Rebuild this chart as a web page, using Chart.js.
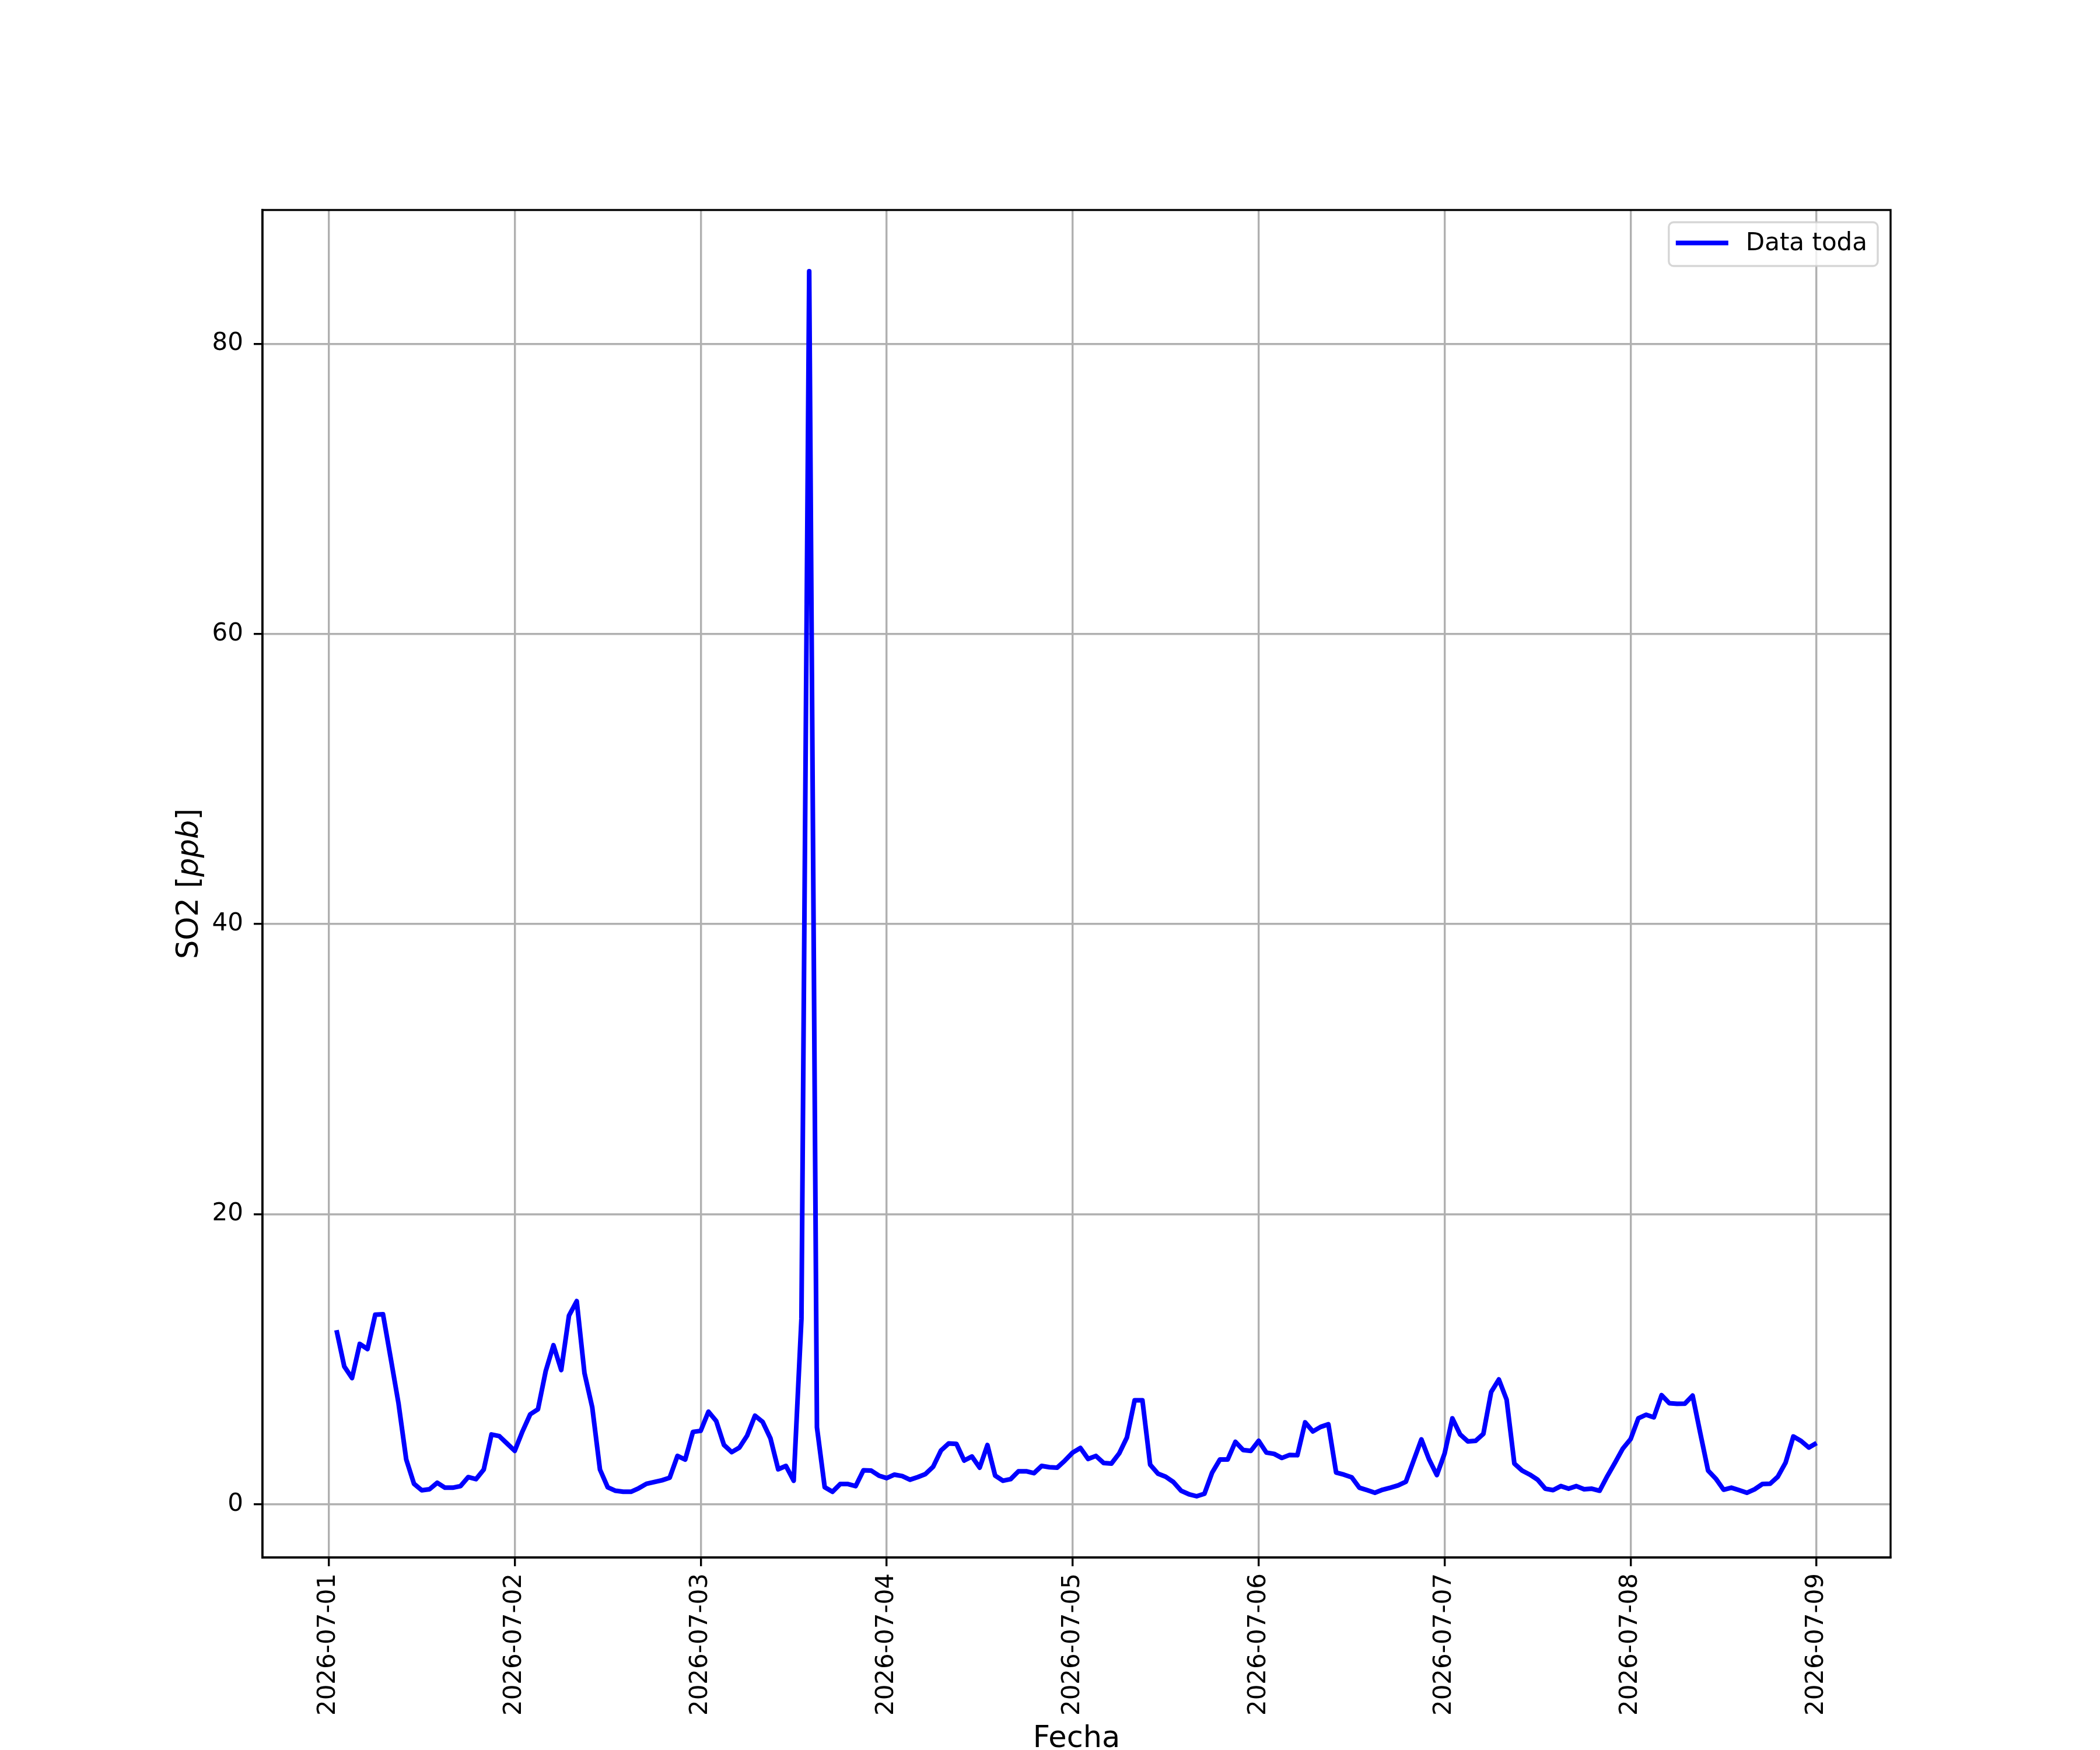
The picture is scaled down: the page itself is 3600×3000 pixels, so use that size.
<!DOCTYPE html>
<html>
<head>
<meta charset="utf-8">
<title>SO2</title>
<script src="https://cdn.jsdelivr.net/npm/chart.js@4/dist/chart.umd.min.js"></script>
<style>
  html, body { margin: 0; padding: 0; background: #fff; }
  canvas { display: block; }
</style>
</head>
<body>
<canvas id="grafico" width="3600" height="3000" style="width:3600px;height:3000px"></canvas>
<script>
// Valores horarios de SO2 (ppb), hora 1..24 de cada día (la hora 24 es las 00:00 del día siguiente)
const dia1 = [12.0, 9.5, 8.7, 11.05, 10.7, 13.07, 13.1, 10.05, 6.96, 3.08, 1.41, 0.96, 1.03, 1.48, 1.14, 1.14, 1.25, 1.87, 1.73, 2.39, 4.81, 4.70, 4.19, 3.68];
const dia2 = [5.02, 6.2, 6.55, 9.18, 10.96, 9.25, 13.0, 14.0, 9.04, 6.69, 2.39, 1.17, 0.93, 0.86, 0.86, 1.10, 1.41, 1.53, 1.65, 1.83, 3.33, 3.08, 4.99, 5.06];
const dia3 = [6.38, 5.74, 4.09, 3.59, 3.91, 4.74, 6.10, 5.67, 4.54, 2.41, 2.64, 1.62, 12.79, 85.0, 5.30, 1.17, 0.86, 1.39, 1.39, 1.25, 2.34, 2.32, 1.97, 1.80];
const dia4 = [2.04, 1.94, 1.69, 1.87, 2.08, 2.59, 3.70, 4.19, 4.16, 3.01, 3.29, 2.52, 4.08, 1.97, 1.62, 1.73, 2.27, 2.27, 2.14, 2.64, 2.55, 2.52, 3.01, 3.56];
const dia5 = [3.88, 3.12, 3.33, 2.84, 2.80, 3.50, 4.60, 7.17, 7.17, 2.73, 2.11, 1.90, 1.53, 0.93, 0.69, 0.55, 0.72, 2.18, 3.08, 3.08, 4.30, 3.74, 3.68, 4.37];
const dia6 = [3.56, 3.47, 3.19, 3.40, 3.38, 5.64, 5.02, 5.33, 5.51, 2.18, 2.04, 1.86, 1.14, 0.97, 0.79, 1.00, 1.14, 1.30, 1.55, 3.01, 4.47, 3.08, 2.01, 3.50];
const dia7 = [5.92, 4.81, 4.33, 4.37, 4.85, 7.73, 8.60, 7.21, 2.80, 2.32, 2.04, 1.69, 1.07, 0.97, 1.25, 1.07, 1.25, 1.03, 1.07, 0.93, 1.94, 2.87, 3.84, 4.49];
const dia8 = [5.92, 6.17, 5.99, 7.52, 6.96, 6.92, 6.93, 7.49, 4.88, 2.32, 1.76, 1.00, 1.14, 0.97, 0.79, 1.03, 1.39, 1.41, 1.90, 2.87, 4.67, 4.36, 3.91, 4.22];

const fechaInicio = '2026-07-01';
const ticksFecha = ['2026-07-01', '2026-07-02', '2026-07-03', '2026-07-04', '2026-07-05', '2026-07-06', '2026-07-07', '2026-07-08', '2026-07-09'];
const ticksSO2 = [0, 20, 40, 60, 80];
const etiquetaSerie = 'Data toda';

// Puntos (horas desde 2026-07-01 00:00, valor)
const dias = [dia1, dia2, dia3, dia4, dia5, dia6, dia7, dia8];
const puntos = [];
dias.forEach((dia, d) => {
    dia.forEach((v, h) => puntos.push({ x: d * 24 + h + 1, y: v }));
});

// Márgenes del 5% como en matplotlib
const xs = puntos.map(p => p.x), ys = puntos.map(p => p.y);
const xMin = Math.min(...xs), xMax = Math.max(...xs);
const yMin = Math.min(...ys), yMax = Math.max(...ys);
const mx = (xMax - xMin) * 0.05, my = (yMax - yMin) * 0.05;

const FUENTE = 'DejaVu Sans';
const LW = 3.4;

// Marco completo, título Y con "ppb" en cursiva y leyenda dentro del eje
const extras = {
    id: 'extras',
    afterDatasetsDraw(chart) {
        const { ctx, chartArea: a } = chart;
        ctx.save();
        ctx.strokeStyle = '#000';
        ctx.lineWidth = LW;
        ctx.strokeRect(a.left, a.top, a.right - a.left, a.bottom - a.top);
        ctx.restore();
    },
    afterDraw(chart) {
        const { ctx, chartArea: a } = chart;

        // título eje Y
        ctx.save();
        ctx.translate(339, (a.top + a.bottom) / 2);
        ctx.rotate(-Math.PI / 2);
        ctx.fillStyle = '#000';
        ctx.textBaseline = 'alphabetic';
        ctx.textAlign = 'left';
        const partes = [['SO2 [', 'normal'], ['ppb', 'italic'], [']', 'normal']];
        let total = 0;
        partes.forEach(p => { ctx.font = p[1] + ' 51px "' + FUENTE + '"'; total += ctx.measureText(p[0]).width; });
        let x = -total / 2;
        partes.forEach(p => {
            ctx.font = p[1] + ' 51px "' + FUENTE + '"';
            ctx.fillText(p[0], x, 0);
            x += ctx.measureText(p[0]).width;
        });
        ctx.restore();

        // leyenda
        const ds = chart.data.datasets[0];
        ctx.save();
        ctx.font = '42px "' + FUENTE + '"';
        const tw = ctx.measureText(ds.label).width;
        const right = a.right - 22, top = a.top + 21, h = 75;
        const left = right - (12 + 90 + 30 + tw + 18);
        const r = 8;
        ctx.beginPath();
        ctx.moveTo(left + r, top);
        ctx.arcTo(right, top, right, top + h, r);
        ctx.arcTo(right, top + h, left, top + h, r);
        ctx.arcTo(left, top + h, left, top, r);
        ctx.arcTo(left, top, right, top, r);
        ctx.closePath();
        ctx.fillStyle = 'rgba(255,255,255,0.8)';
        ctx.fill();
        ctx.strokeStyle = 'rgba(204,204,204,0.8)';
        ctx.lineWidth = 3.4;
        ctx.stroke();
        const cy = top + h / 2 - 2;
        ctx.strokeStyle = ds.borderColor;
        ctx.lineWidth = ds.borderWidth;
        ctx.beginPath();
        ctx.moveTo(left + 12, cy);
        ctx.lineTo(left + 102, cy);
        ctx.stroke();
        ctx.fillStyle = '#000';
        ctx.textBaseline = 'middle';
        ctx.fillText(ds.label, left + 132, cy + 2);
        ctx.restore();
    }
};

function fechaDesdeHoras(h) {
    const base = new Date(fechaInicio + 'T00:00:00Z');
    const f = new Date(base.getTime() + h * 3600 * 1000);
    return f.toISOString().slice(0, 10);
}

new Chart(document.getElementById('grafico'), {
    type: 'line',
    data: {
        datasets: [{
            label: etiquetaSerie,
            data: puntos,
            borderColor: '#0000ff',
            borderWidth: 8,
            borderJoinStyle: 'round',
            pointRadius: 0,
            tension: 0,
            fill: false
        }]
    },
    options: {
        responsive: false,
        animation: false,
        devicePixelRatio: 1,
        layout: { padding: { top: 360, right: 359, left: 0, bottom: 0 } },
        plugins: { legend: { display: false }, tooltip: { enabled: false } },
        scales: {
            x: {
                type: 'linear',
                min: xMin - mx,
                max: xMax + mx,
                afterBuildTicks: scale => {
                    scale.ticks = ticksFecha.map((t, i) => ({ value: i * 24 }));
                },
                afterFit: scale => { scale.height = 330; },
                ticks: {
                    callback: v => fechaDesdeHoras(v),
                    minRotation: 90,
                    maxRotation: 90,
                    autoSkip: false,
                    padding: 12,
                    color: '#000',
                    font: { family: FUENTE, size: 42 }
                },
                grid: { color: '#b0b0b0', lineWidth: LW, tickLength: 15, tickColor: '#000', tickWidth: LW },
                border: { display: true, color: '#000', width: LW },
                title: {
                    display: true,
                    text: 'Fecha',
                    color: '#000',
                    font: { family: FUENTE, size: 51, lineHeight: 0.7 },
                    padding: { top: 0, bottom: 0 }
                }
            },
            y: {
                type: 'linear',
                min: yMin - my,
                max: yMax + my,
                afterBuildTicks: scale => {
                    scale.ticks = ticksSO2.map(v => ({ value: v }));
                },
                afterFit: scale => { scale.width = 450; },
                ticks: {
                    padding: 18,
                    color: '#000',
                    font: { family: FUENTE, size: 42 }
                },
                grid: { color: '#b0b0b0', lineWidth: LW, tickLength: 15, tickColor: '#000', tickWidth: LW },
                border: { display: true, color: '#000', width: LW }
            }
        }
    },
    plugins: [extras]
});
</script>
</body>
</html>
